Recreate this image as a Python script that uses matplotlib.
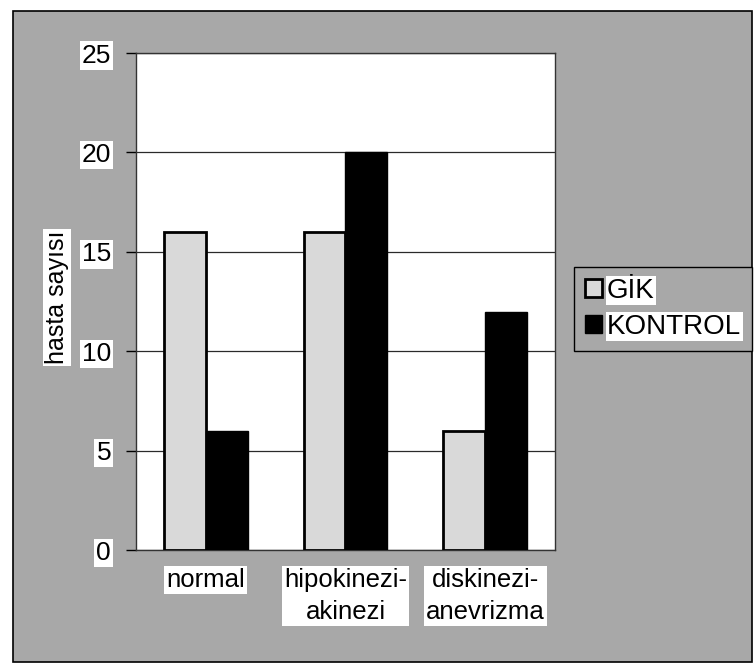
import numpy as np
import matplotlib.pyplot as plt
from matplotlib.patches import Rectangle

plt.rcParams['font.family'] = ['Liberation Sans', 'DejaVu Sans']

categories = ['normal', 'hipokinezi-\nakinezi', 'diskinezi-\nanevrizma']
gik = [16, 16, 6]
kontrol = [6, 20, 12]
series_names = ['GİK', 'KONTROL']
y_ticks = [0, 5, 10, 15, 20, 25]

bg_gray = '#a8a8a8'
white_box = dict(facecolor='white', edgecolor='none', pad=1.5)

fig = plt.figure(figsize=(7.56, 6.71), dpi=100, facecolor='white')

# gray chart area behind everything
fig.patches.append(Rectangle((0.017, 0.0134), 0.978, 0.970, transform=fig.transFigure,
                             facecolor=bg_gray, edgecolor='black', linewidth=1.2, zorder=-5))

ax = fig.add_axes([0.180, 0.180, 0.554, 0.741])
ax.set_facecolor('white')

x = np.arange(len(categories)) + 0.5
w = 0.30
ax.bar(x - w / 2, gik, w, color='#d9d9d9', edgecolor='black', linewidth=2,
       label=series_names[0], zorder=3)
ax.bar(x + w / 2, kontrol, w, color='black', edgecolor='black', linewidth=1,
       label=series_names[1], zorder=3)

ax.set_xlim(0, 3)
ax.set_ylim(0, 25)
ax.set_yticks(y_ticks)
ax.set_yticklabels([str(t) for t in y_ticks])
ax.yaxis.grid(True, color='#2a2a2a', linewidth=0.9)
ax.set_axisbelow(True)
for s in ax.spines.values():
    s.set_color('#333333')
    s.set_linewidth(1)

ax.tick_params(axis='y', length=7, width=1, pad=11, labelsize=19, direction='out')
ax.set_xticks(x)
ax.set_xticklabels(categories, linespacing=1.4)
ax.tick_params(axis='x', length=0, pad=13, labelsize=18.5)

for lbl in ax.get_yticklabels() + ax.get_xticklabels():
    lbl.set_bbox(white_box)

fig.text(0.075, 0.557, 'hasta sayısı', rotation=90, fontsize=18, ha='center', va='center',
         bbox=white_box)

leg = ax.legend(loc='center', bbox_to_anchor=(0.877, 0.540), bbox_transform=fig.transFigure,
                fontsize=20, frameon=True, fancybox=False, facecolor=bg_gray,
                edgecolor='black', framealpha=1, handlelength=0.6, handleheight=0.6,
                handletextpad=0.2, borderpad=0.4, labelspacing=0.35)
leg.get_frame().set_linewidth(1)
for t in leg.get_texts():
    t.set_bbox(dict(facecolor='white', edgecolor='none', pad=1))

fig.savefig('out.png', dpi=100, facecolor='white')
